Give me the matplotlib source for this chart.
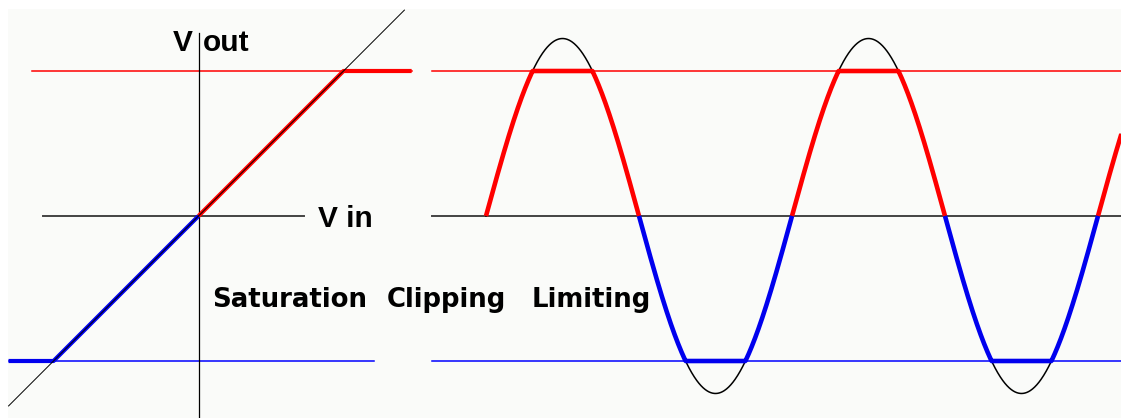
import numpy as np
import matplotlib.pyplot as plt
from matplotlib.patches import Rectangle

# ---------------- data (volts, degrees) ----------------
sat_level = 1.0                      # clipping level (+/-)
diag_vin = [-1.31, 1.42]             # Vout = Vin reference line
red_ref_vin = [-1.15, 1.47]          # +sat reference line span
blue_ref_vin = [-1.31, 1.21]         # -sat reference line span
vin_axis = [-1.07, 0.73]
vout_axis = [-1.40, 1.26]
red_tf_vin = [0, 1.0, 1.47]
red_tf_vout = [0, 1.0, 1.0]
blue_tf_vin = [0, -1.0, -1.31]
blue_tf_vout = [0, -1.0, -1.0]

sine_amp = 1.224                     # input peak (volts)
sine_t = np.arange(0, 760.5, 0.5)    # degrees, first zero crossing at 0
ref_t_start = -63.5

# ---------------- layout ----------------
W, H = 1121, 418
PX = 145.0            # pixels per volt
ox, oy = 198.5, 216   # origin of transfer plot (px)
split = 420           # px where right panel starts
t0 = 486              # px of first zero crossing
px_deg = 0.85         # px per degree

fig = plt.figure(figsize=(W / 100, H / 100), dpi=100)
fig.patch.set_facecolor('white')
fig.patches.append(Rectangle((8 / W, 0), 1, 409 / H, transform=fig.transFigure,
                             facecolor='#fafbf9', edgecolor='none', zorder=-10))

axL = fig.add_axes([0, 0, split / W, 1])
axR = fig.add_axes([split / W, 0, (W - split) / W, 1])
for ax in (axL, axR):
    ax.set_axis_off()
    ax.patch.set_visible(False)

axL.set_xlim(-ox / PX, (split - ox) / PX)
axL.set_ylim(-(H - oy) / PX, oy / PX)
axR.set_xlim((split - t0) / px_deg, (W - t0) / px_deg)
axR.set_ylim(-(H - oy) / PX, oy / PX)

# ---- left: transfer characteristic ----
axL.plot(red_ref_vin, [sat_level] * 2, color='#ff0000', lw=1.1)
axL.plot(blue_ref_vin, [-sat_level] * 2, color='#0000ff', lw=1.1)
axL.plot(vin_axis, [0, 0], color='#444444', lw=1.4)
axL.plot([0, 0], vout_axis, color='black', lw=0.9)
axL.plot(red_tf_vin, red_tf_vout, color='#ff0000', lw=3.0, solid_capstyle='butt')
axL.plot(blue_tf_vin, blue_tf_vout, color='#0000ee', lw=3.0, solid_capstyle='butt')
axL.plot(diag_vin, diag_vin, color='black', lw=0.7, zorder=5)

big = dict(fontfamily='Liberation Sans', fontweight='bold', fontsize=21.5,
           color='black', va='baseline', clip_on=False, zorder=10)
small = dict(big, fontfamily='DejaVu Sans', fontsize=18.7)
axL.text(-0.176, 1.138, 'V', **big)
axL.text(0.03, 1.138, 'out', **big)
axL.text(0.824, -0.076, 'V in', **big)
axL.text(0.093, -0.628, 'Saturation', **small)
axL.text(1.30, -0.628, 'Clipping', **small)
axL.text(2.30, -0.628, 'Limiting', **small)

# ---- right: waveform ----
xr = axR.get_xlim()[1]
axR.plot([ref_t_start, xr], [sat_level] * 2, color='#ff0000', lw=1.1)
axR.plot([ref_t_start, xr], [0, 0], color='#444444', lw=1.4)
axR.plot([ref_t_start, xr], [-sat_level] * 2, color='#0000ff', lw=1.1)

vin_wave = sine_amp * np.sin(np.deg2rad(sine_t))
vout_wave = np.clip(vin_wave, -sat_level, sat_level)
pos = np.where(vout_wave >= -1e-9, vout_wave, np.nan)
neg = np.where(vout_wave <= 1e-9, vout_wave, np.nan)
axR.plot(sine_t, vin_wave, color='black', lw=1.1, zorder=2)
axR.plot(sine_t, pos, color='#ff0000', lw=3.3, solid_capstyle='butt', zorder=3)
axR.plot(sine_t, neg, color='#0000ee', lw=3.3, solid_capstyle='butt', zorder=3)

plt.savefig('out.png', dpi=100)
